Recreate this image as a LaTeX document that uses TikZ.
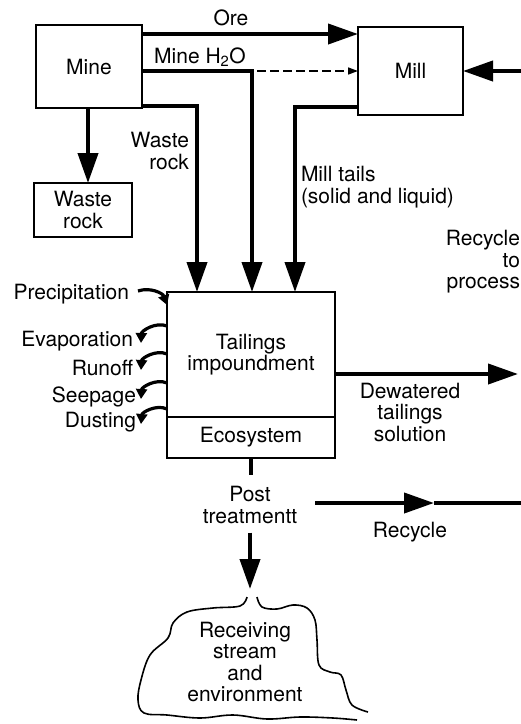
\documentclass[tikz,border=0pt]{standalone}
\usepackage{fontspec}
\setmainfont{TeX Gyre Heros}
\usetikzlibrary{arrows.meta, positioning, calc}

\begin{document}
\begin{tikzpicture}[x=1pt, y=1pt,
  every node/.style={font=\fontsize{21}{21.5}\selectfont, inner sep=0pt, outer sep=0pt},
  box/.style={draw, line width=1.8pt, align=center},
  heavy/.style={line width=4pt},
  flow/.style={heavy, -{Triangle[length=30pt,width=20pt]}},
  dashflow/.style={line width=1.6pt, dash pattern=on 9pt off 4pt,
                   -{Triangle[length=10pt,width=7pt]}},
  side/.style={line width=3.2pt, -{Triangle[length=10pt,width=11pt]}},
  lbl/.style={align=center},
  cloudline/.style={line width=1.6pt, line join=round}
]
  \useasboundingbox (0,0) rectangle (521,-724);

  % boxes
  \node[box, minimum width=106pt, minimum height=83pt] (mine) at (89,-66.5) {Mine};
  \node[box, minimum width=105pt, minimum height=88pt] (mill) at (410.5,-71) {Mill};
  \node[box, minimum width=98pt, minimum height=54pt] (waste) at (83,-210) {Waste\\rock};
  \node[box, minimum width=168pt, minimum height=125pt] (imp) at (251,-354.5)
    {Tailings\\impoundment};
  \node[box, minimum width=168pt, minimum height=41pt, below=0pt of imp] (eco) {Ecosystem};

  % labels
  \node[lbl] (orelbl) at (231,-18) {Ore};
  \node[lbl] (h2olbl) at (200,-57) {Mine H\textsubscript{2}O};
  \node[align=right, anchor=east] (wrlbl) at (189,-151) {Waste\\rock};
  \node[align=left, anchor=west] (tailslbl) at (301,-187) {Mill tails\\(solid and liquid)};
  \node[align=right, anchor=east] (rcplbl) at (520,-262) {Recycle\\to\\process};
  \node[lbl] (dwlbl) at (410,-412) {Dewatered\\tailings\\solution};
  \node[lbl] (post) at (250,-505) {Post\\treatmentt};
  \node[lbl] (rclbl) at (410,-532) {Recycle};
  \node[lbl] (recv) at (245,-662) {Receiving\\stream\\and\\environment};

  \node[anchor=east] (precip) at (129,-294) {Precipitation};
  \node[anchor=east] (evap)   at (133,-341) {Evaporation};
  \node[anchor=east] (runoff) at (133,-368) {Runoff};
  \node[anchor=east] (seep)   at (136,-397) {Seepage};
  \node[anchor=east] (dust)   at (136,-422) {Dusting};

  % connection points
  \coordinate (oreS) at ($(mine.north east)+(0,-9)$);
  \coordinate (h2o)  at ($(mine.east)+(0,-4.5)$);
  \coordinate (inA)  at ($(imp.north)+(-54,0)$);
  \coordinate (inB)  at ($(imp.north)+(1,0)$);
  \coordinate (inC)  at ($(imp.north)+(44,0)$);
  \coordinate (rcin) at (521,-71);
  \coordinate (dwout) at (518,-374);
  \coordinate (rcA) at (315,-503);
  \coordinate (rcM) at (434,-503);
  \coordinate (rcB) at (521,-503);
  \coordinate (gap) at (250,-589);

  % main flows
  \draw[flow] (oreS) -- (oreS -| mill.west);
  \draw[flow] (h2o) -| (inB);
  \draw[dashflow] ($(h2o -| inB)+(5,0)$) -- (h2o -| mill.west);
  \draw[flow] ($(mine.south east)+(0,2)$) -| (inA);
  \draw[flow] ($(mill.south west)+(0,8)$) -| (inC);
  \draw[flow] (mine.south -| 88,0) -- (waste.north -| 88,0);
  \draw[flow] (rcin) -- (mill.east);
  \draw[flow] (dwout -| imp.east) -- (dwout);
  \draw[flow] (rcA) -- (rcM);
  \draw[heavy] (rcM) -- (rcB);
  \draw[heavy] (eco.south) -- ++(0,-17);
  \draw[flow] ([yshift=-9pt]post.south) -- (gap);

  % side flows
  \draw[side] ($(precip.east)+(9,3)$) to[bend left=45] ($(imp.north west)+(0,-13)$);
  \draw[side] ($(imp.west |- evap)+(0,15)$) to[bend right=55] ($(evap.east)+(8,-2)$);
  \draw[side] ($(imp.west |- runoff)+(0,14)$) to[bend right=55] ($(runoff.east)+(8,-2)$);
  \draw[side] ($(imp.west |- seep)+(0,14)$) to[bend right=55] ($(seep.east)+(5,-2)$);
  \draw[side] ($(imp.west |- dust)+(0,13)$) to[bend right=55] ($(dust.east)+(5,-2)$);

  % receiving stream outline
  \draw[cloudline] plot[smooth, tension=0.6] coordinates {(247,-597) (240,-606)
    (213,-608) (187,-612) (173,-623) (168,-638) (150,-655) (141,-680) (138,-700)
    (144,-713) (167,-715) (200,-718) (233,-715) (267,-719) (300,-717) (333,-718)
    (357,-720)};
  \draw[cloudline] plot[smooth, tension=0.6] coordinates {(257,-597) (262,-607)
    (277,-609) (293,-605) (307,-608) (315,-620) (317,-640) (319,-665) (330,-672)
    (341,-675) (346,-690) (352,-705) (368,-712)};
\end{tikzpicture}
\end{document}
